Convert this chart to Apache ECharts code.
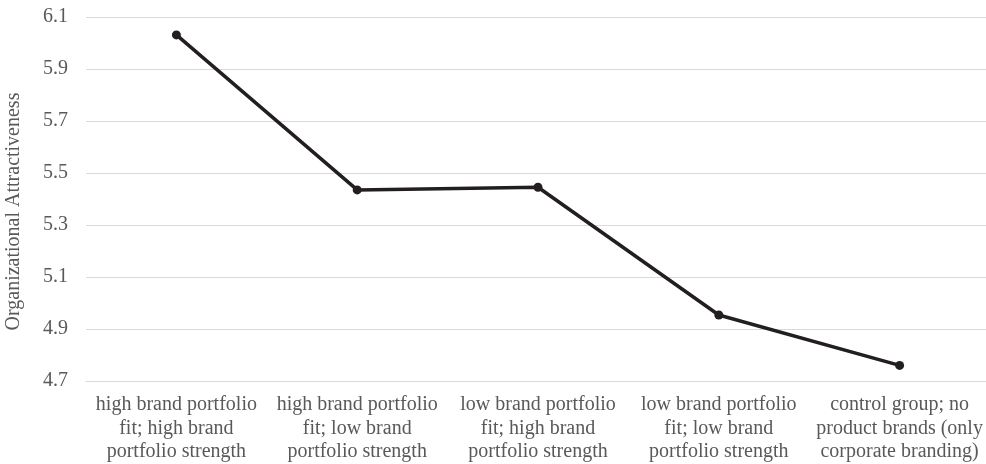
<!DOCTYPE html>
<html><head><meta charset="utf-8">
<script src="https://cdn.jsdelivr.net/npm/echarts@6/dist/echarts.min.js"></script>
<style>html,body{margin:0;padding:0;background:#fff}#c{width:986px;height:464px}</style>
</head><body><div id="c"></div>
<script>
const categories = [
  "high brand portfolio\nfit; high brand\nportfolio strength",
  "high brand portfolio\nfit; low brand\nportfolio strength",
  "low brand portfolio\nfit; high brand\nportfolio strength",
  "low brand portfolio\nfit; low brand\nportfolio strength",
  "control group; no\nproduct brands (only\ncorporate branding)"
];
const values = [6.031, 5.435, 5.445, 4.954, 4.760];
const yMin = 4.7, yMax = 6.1, yStep = 0.2;
const yTitle = "Organizational Attractiveness";

const chart = echarts.init(document.getElementById('c'), null, {renderer: 'canvas'});
chart.setOption({
  animation: false,
  grid: {left: 86, top: 17, width: 904, height: 364, containLabel: false, outerBoundsMode: 'none'},
  xAxis: {
    type: 'category', data: categories, boundaryGap: true,
    axisLine: {show: true, lineStyle: {color: '#d9d9d9', width: 1}},
    axisTick: {show: false},
    axisLabel: {interval: 0, color: '#595959', fontFamily: 'Liberation Serif', fontSize: 20, lineHeight: 23.5, margin: 12, align: 'center'}
  },
  yAxis: {
    type: 'value', min: yMin, max: yMax, interval: yStep,
    name: yTitle, nameLocation: 'middle', nameGap: 62, nameRotate: 90,
    nameTextStyle: {color: '#595959', fontFamily: 'Liberation Serif', fontSize: 20, padding: [0,25,0,0]},
    axisLine: {show: false}, axisTick: {show: false},
    splitLine: {lineStyle: {color: '#d9d9d9', width: 1}},
    axisLabel: {color: '#595959', fontFamily: 'Liberation Serif', fontSize: 20, margin: 18,
      formatter: v => v.toFixed(1)}
  },
  series: [{
    type: 'line', data: values,
    symbol: 'circle', symbolSize: 9,
    lineStyle: {color: '#231f20', width: 3.5},
    itemStyle: {color: '#231f20'}
  }]
});
</script></body></html>
